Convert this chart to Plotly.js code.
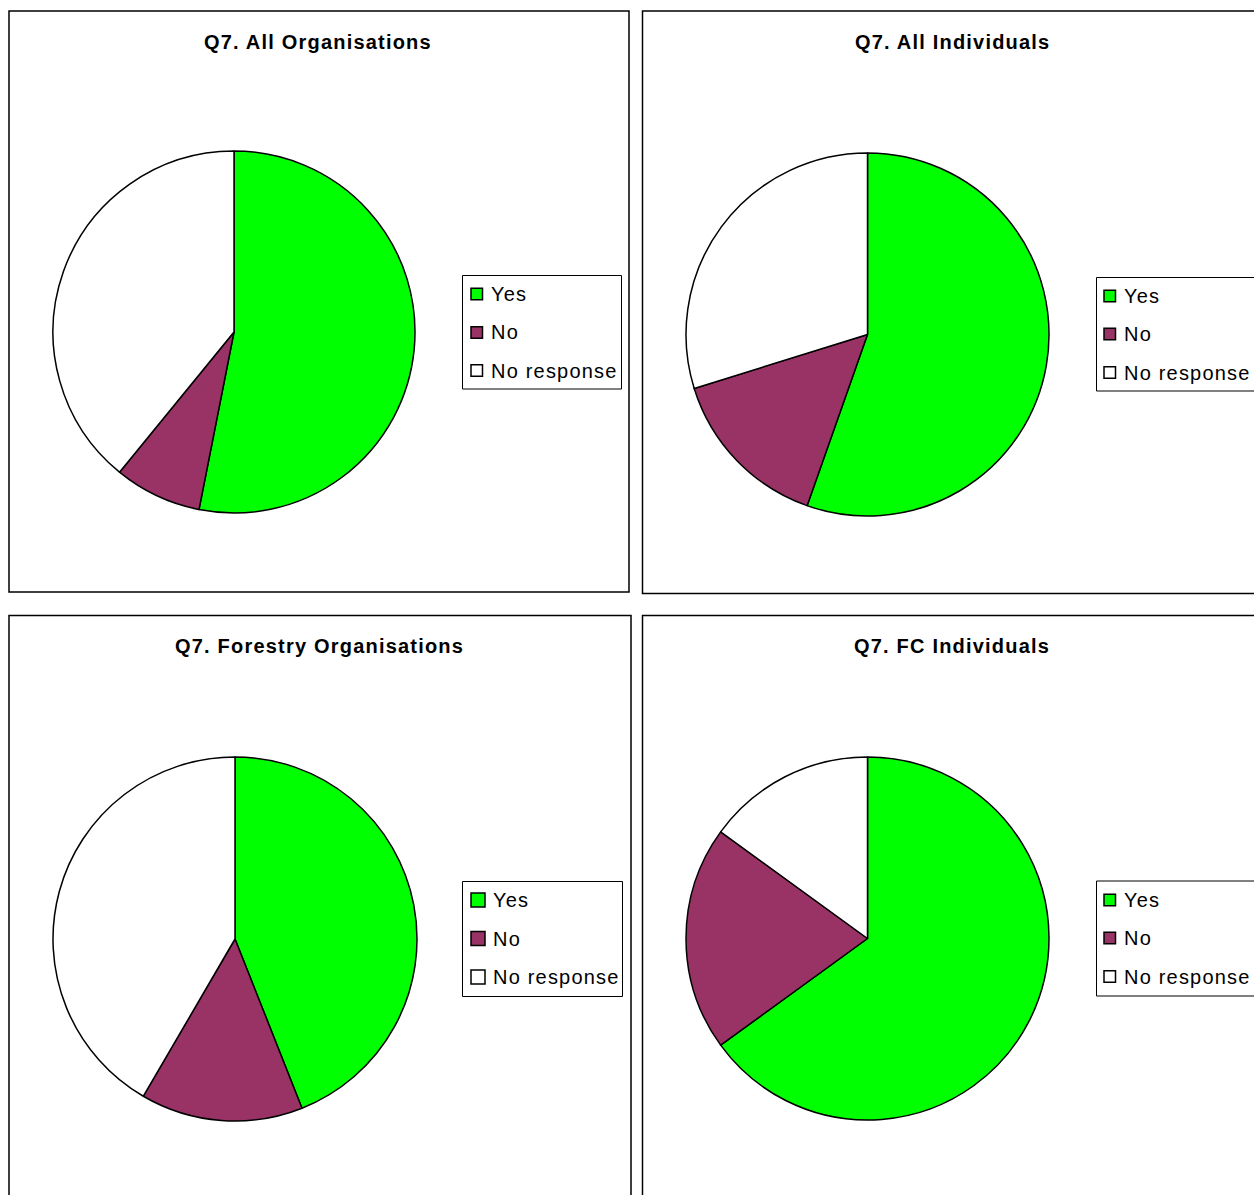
<!DOCTYPE html>
<html>
<head>
<meta charset="utf-8">
<script src="https://cdn.plot.ly/plotly-3.0.1.min.js"></script>
<style>
  html, body { margin: 0; padding: 0; background: #fff; }
  #chart { width: 1254px; height: 1195px; }
  text.annotation-text { letter-spacing: 1.2px; }
</style>
</head>
<body>
<div id="chart"></div>
<script>
// Q7 responses, share of respondents per answer
const categories = ['Yes', 'No', 'No response'];
const sliceColors = ['#00FF00', '#993366', '#FFFFFF'];

const panelTitles = [
  'Q7. All Organisations',
  'Q7. All Individuals',
  'Q7. Forestry Organisations',
  'Q7. FC Individuals'
];

const allOrganisations = [53.1, 7.8, 39.1];
const allIndividuals = [55.4, 14.8, 29.8];
const forestryOrganisations = [44, 14.4, 41.6];
const fcIndividuals = [65, 20, 15];

const W = 1254, H = 1195;
const px = v => v / W;
const py = v => 1 - v / H;

// Panel geometry in pixels: frame, title position, pie box, legend box
const panels = [
  { frame: [9, 11, 629, 592],  title: [318, 42],  pie: [53, 151, 415, 513],  legend: [462.5, 275.5, 621.5, 389], items: [294, 332.5, 370.5], mark: 11.5, mx: 471 },
  { frame: [642.5, 11, 1262, 593.5], title: [952, 42], pie: [686, 153, 1049, 516], legend: [1096.5, 277.5, 1262, 391], items: [296, 334, 372.5], mark: 11.5, mx: 1104 },
  { frame: [9, 615.5, 631, 1205], title: [319, 646], pie: [53, 757, 417, 1121], legend: [462.5, 881.5, 622.5, 996.5], items: [900, 938.5, 977], mark: 14, mx: 471 },
  { frame: [642.5, 615.5, 1262, 1205], title: [952, 646], pie: [686, 757, 1049, 1120], legend: [1096.5, 881, 1262, 996], items: [900, 938, 976.5], mark: 11.5, mx: 1104 }
];

const seriesList = [allOrganisations, allIndividuals, forestryOrganisations, fcIndividuals];

const traces = seriesList.map((vals, i) => {
  const p = panels[i].pie;
  return {
    type: 'pie',
    labels: categories,
    values: vals,
    sort: false,
    direction: 'clockwise',
    rotation: 0,
    textinfo: 'none',
    hoverinfo: 'label+value',
    showlegend: false,
    marker: { colors: sliceColors, line: { color: '#000000', width: 1.5 } },
    domain: { x: [px(p[0]), px(p[2])], y: [py(p[3]), py(p[1])] }
  };
});

const shapes = [];
const annotations = [];
const font = 'Liberation Sans, Arial, sans-serif';

panels.forEach((pn, i) => {
  const f = pn.frame;
  shapes.push({ type: 'rect', xref: 'paper', yref: 'paper',
    x0: px(f[0]), x1: px(f[2]), y0: py(f[3]), y1: py(f[1]),
    line: { color: '#000000', width: 1.5 }, fillcolor: 'rgba(0,0,0,0)' });

  annotations.push({ xref: 'paper', yref: 'paper', x: px(pn.title[0]), y: py(pn.title[1]),
    xanchor: 'center', yanchor: 'middle', showarrow: false,
    text: '<b>' + panelTitles[i] + '</b>', font: { family: font, size: 20, color: '#000000' } });

  const L = pn.legend;
  shapes.push({ type: 'rect', xref: 'paper', yref: 'paper',
    x0: px(L[0]), x1: px(L[2]), y0: py(L[3]), y1: py(L[1]),
    line: { color: '#000000', width: 1 }, fillcolor: '#FFFFFF' });

  categories.forEach((cat, k) => {
    const cy = pn.items[k];
    const s = pn.mark;
    shapes.push({ type: 'rect', xref: 'paper', yref: 'paper',
      x0: px(pn.mx), x1: px(pn.mx + s), y0: py(cy + s / 2), y1: py(cy - s / 2),
      line: { color: '#000000', width: 1.5 }, fillcolor: sliceColors[k] });
    annotations.push({ xref: 'paper', yref: 'paper', x: px(pn.mx + s + 6), y: py(cy),
      xanchor: 'left', yanchor: 'middle', showarrow: false,
      text: cat, font: { family: font, size: 20, color: '#000000' } });
  });
});

const layout = {
  width: W, height: H,
  margin: { l: 0, r: 0, t: 0, b: 0 },
  paper_bgcolor: '#FFFFFF',
  showlegend: false,
  shapes: shapes,
  annotations: annotations
};

Plotly.newPlot('chart', traces, layout, { displayModeBar: false, staticPlot: true });
</script>
</body>
</html>
